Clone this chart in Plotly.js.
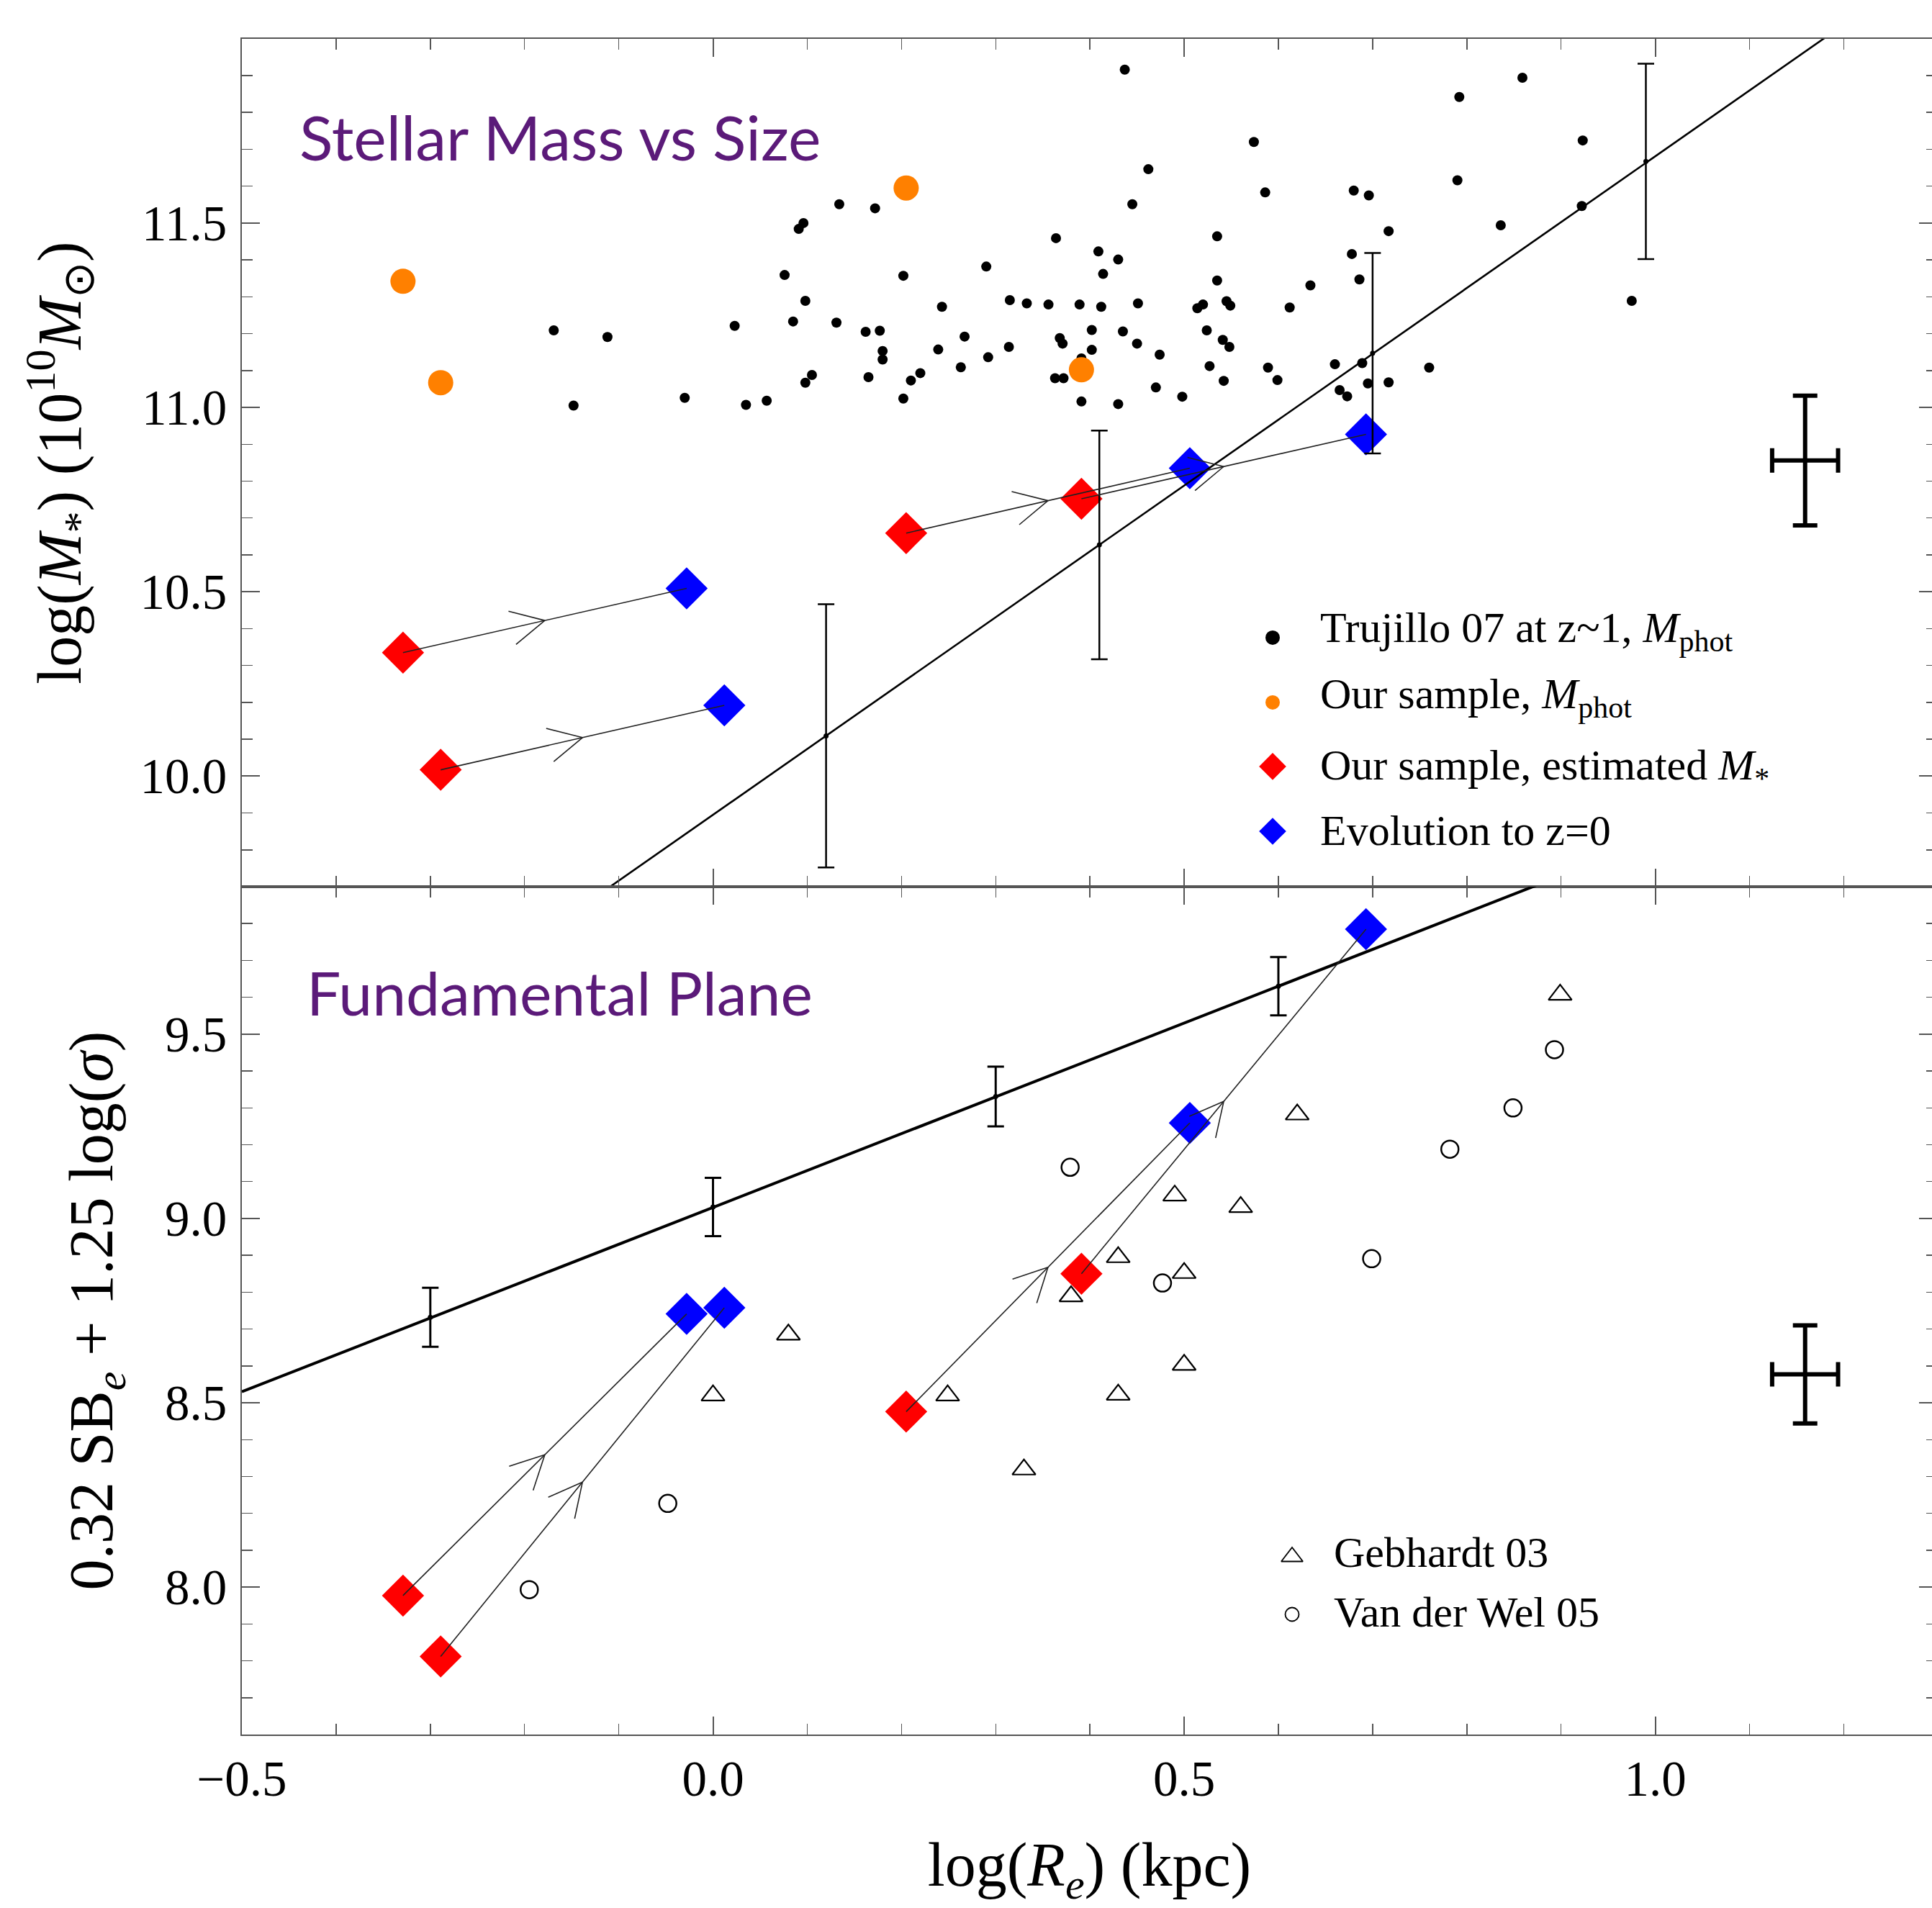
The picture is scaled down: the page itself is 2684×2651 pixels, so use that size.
<!DOCTYPE html>
<html>
<head>
<meta charset="utf-8">
<script src="https://cdn.plot.ly/plotly-3.0.1.min.js"></script>
<style>html,body{margin:0;padding:0;overflow:hidden;background:#ffffff;}</style>
</head>
<body>
<div id="plot"></div>
<script>
// ---------------- DATA ----------------
// Trujillo 07 at z~1 (photometric masses), log(Re) vs log(M*)
const trujilloX = [-0.169,-0.148,-0.112,-0.030,0.023,0.035,0.057,0.076,0.085,0.091,0.096,0.098,
  0.098,0.105,0.131,0.134,0.162,0.165,0.172,0.177,0.180,0.180,0.202,0.202,
  0.210,0.220,0.239,0.243,0.263,0.267,0.290,0.292,0.314,0.315,0.333,0.356,
  0.363,0.364,0.368,0.371,0.372,0.389,0.391,0.391,0.402,0.402,0.409,0.412,
  0.414,0.430,0.430,0.435,0.437,0.445,0.450,0.451,0.462,0.470,0.474,0.498,
  0.514,0.520,0.524,0.527,0.535,0.535,0.541,0.542,0.545,0.548,0.549,0.574,
  0.586,0.589,0.599,0.612,0.634,0.660,0.665,0.673,0.678,0.680,0.686,0.689,
  0.695,0.696,0.717,0.717,0.760,0.790,0.792,0.836,0.859,0.922,0.923,0.975];
const trujilloY = [11.209,11.005,11.191,11.026,11.221,11.007,11.018,11.359,11.233,11.484,11.500,11.289,
  11.067,11.088,11.230,11.551,11.205,11.082,11.540,11.208,11.153,11.130,11.357,11.024,
  11.073,11.093,11.157,11.273,11.109,11.192,11.382,11.136,11.164,11.291,11.282,11.279,
  11.079,11.459,11.188,11.173,11.079,11.279,11.133,11.016,11.210,11.156,11.423,11.273,
  11.362,11.401,11.009,11.206,11.916,11.551,11.173,11.282,11.646,11.054,11.143,11.029,
  11.269,11.279,11.209,11.112,11.464,11.344,11.183,11.072,11.288,11.164,11.276,11.720,
  11.583,11.108,11.074,11.271,11.331,11.117,11.047,11.030,11.416,11.588,11.347,11.120,
  11.065,11.575,11.478,11.068,11.108,11.616,11.842,11.494,11.894,11.546,11.724,11.289];

// Our sample
const sampleX      = [-0.329, -0.289, 0.205, 0.391];
const samplePhotY  = [11.342, 11.067, 11.595, 11.102];
const sampleEstY   = [10.335, 10.017, 10.659, 10.752];
const evolX        = [-0.028, 0.012, 0.506, 0.693];
const evolMassY    = [10.509, 10.192, 10.835, 10.927];
const sampleFpY    = [7.977, 7.812, 8.476, 8.850];
const evolFpY      = [8.741, 8.758, 9.259, 9.785];

// Local mass-size relation (with scatter bars)
const msSlope = 1.786, msIntercept = 9.895;
const msBarX   = [0.12, 0.41, 0.70, 0.99];
const msBarY   = [10.109, 10.627, 11.147, 11.667];
const msBarErr = [0.357, 0.310, 0.272, 0.265];

// Local fundamental plane relation
const fpSlope = 1.0, fpIntercept = 9.03;
const fpBarX   = [-0.30, 0.00, 0.30, 0.60];
const fpBarY   = [8.732, 9.031, 9.331, 9.630];
const fpBarErr = [0.080, 0.079, 0.081, 0.079];

// Gebhardt 03
const gebX = [0.000, 0.080, 0.249, 0.330, 0.380, 0.430, 0.430, 0.490, 0.500, 0.500, 0.560, 0.620, 0.899];
const gebY = [8.520, 8.685, 8.520, 8.319, 8.789, 8.895, 8.522, 9.062, 8.852, 8.603, 9.031, 9.282, 9.607];
// Van der Wel 05
const vdwX = [-0.195, -0.048, 0.379, 0.477, 0.699, 0.782, 0.849, 0.893];
const vdwY = [7.993, 8.227, 9.139, 8.825, 8.891, 9.188, 9.300, 9.458];

// Typical error crosses
const typErrX = [1.159];
const typErrTopY = [10.856];
const typErrBotY = [8.577];
const typErrDx = [0.035];
const typErrTopDy = [0.176];
const typErrBotDy = [0.133];

// Text
const topPanelTitle = 'Stellar Mass vs Size';
const botPanelTitle = 'Fundamental Plane';
const topLegendNames = ['Trujillo 07 at z~1, <i>M</i><sub>phot</sub>',
                        'Our sample, <i>M</i><sub>phot</sub>',
                        'Our sample, estimated <i>M</i><sub>*</sub>',
                        'Evolution to z=0'];
const botLegendNames = ['Gebhardt 03', 'Van der Wel 05'];

// ---------------- LAYOUT GEOMETRY ----------------
const W = 2691, H = 2651;
const M = {l: 336, r: 0, t: 54, b: 241};
const plotW = W - M.l - M.r, plotH = H - M.t - M.b;
const XR = [-0.5, 1.299];
const YR_TOP = [9.7, 12.0], YR_BOT = [7.6, 9.9];
const kx = plotW / (XR[1] - XR[0]);
const ky = (plotH / 2) / (YR_TOP[1] - YR_TOP[0]);
const SERIF = 'Liberation Serif, Times New Roman, serif';

const px = X => (X - M.l) / plotW;
const py = Y => (M.t + plotH - Y) / plotH;
const dataX = X => XR[0] + (X - M.l) / kx;
const dataYTop = Y => YR_TOP[1] - (Y - M.t) / ky;
const dataYBot = Y => YR_BOT[1] - (Y - M.t - plotH / 2) / ky;

function relLine(slope, intercept) {
  const xs = [XR[0], XR[1]];
  return {x: xs, y: xs.map(v => intercept + slope * v)};
}

function arrows(x0, y0, x1, y1) {
  const lx = [], ly = [], cx = [], cy = [];
  const len = 52, ang = 27 * Math.PI / 180;
  for (let i = 0; i < x0.length; i++) {
    lx.push(x0[i], x1[i], null); ly.push(y0[i], y1[i], null);
    const mx = (x0[i] + x1[i]) / 2, my = (y0[i] + y1[i]) / 2;
    const dxp = (x1[i] - x0[i]) * kx, dyp = (y1[i] - y0[i]) * ky;
    const L = Math.hypot(dxp, dyp);
    const ux = -dxp / L, uy = -dyp / L;
    const pts = [ang, -ang].map(a => {
      const rx = ux * Math.cos(a) - uy * Math.sin(a);
      const ry = ux * Math.sin(a) + uy * Math.cos(a);
      return [mx + rx * len / kx, my + ry * len / ky];
    });
    cx.push(pts[0][0], mx, pts[1][0], null);
    cy.push(pts[0][1], my, pts[1][1], null);
  }
  return {lx, ly, cx, cy};
}

const topArr = arrows(sampleX, sampleEstY, evolX, evolMassY);
const botArr = arrows(sampleX, sampleFpY, evolX, evolFpY);
const msLine = relLine(msSlope, msIntercept);
const fpLine = relLine(fpSlope, fpIntercept);

const RED = '#ff0000', BLUE = '#0000ff', ORANGE = '#ff8000';

const traces = [];
// ---- top panel ----
traces.push({type:'scatter', mode:'markers', x: trujilloX, y: trujilloY, xaxis:'x', yaxis:'y',
  name:'Trujillo 07', marker:{color:'#000', size:14}, hoverinfo:'skip'});
traces.push({type:'scatter', mode:'markers', x: sampleX, y: samplePhotY, xaxis:'x', yaxis:'y',
  name:'Our sample, Mphot', marker:{color:ORANGE, size:35}, hoverinfo:'skip'});
traces.push({type:'scatter', mode:'markers', x: sampleX, y: sampleEstY, xaxis:'x', yaxis:'y',
  name:'Our sample, estimated M*', marker:{color:RED, size:45, symbol:'diamond'}, hoverinfo:'skip'});
traces.push({type:'scatter', mode:'markers', x: evolX, y: evolMassY, xaxis:'x', yaxis:'y',
  name:'Evolution to z=0', marker:{color:BLUE, size:45, symbol:'diamond'}, hoverinfo:'skip'});
traces.push({type:'scatter', mode:'lines', x: msLine.x, y: msLine.y, xaxis:'x', yaxis:'y',
  line:{color:'#000', width:2.6}, hoverinfo:'skip'});
traces.push({type:'scatter', mode:'markers', x: msBarX, y: msBarY, xaxis:'x', yaxis:'y',
  marker:{color:'#000', size:7},
  error_y:{type:'data', array: msBarErr, visible:true, color:'#000', thickness:2.5, width:11.5},
  hoverinfo:'skip'});
traces.push({type:'scatter', mode:'markers', x: typErrX, y: typErrTopY, xaxis:'x', yaxis:'y',
  marker:{color:'#000', size:1},
  error_x:{type:'data', array: typErrDx, visible:true, color:'#000', thickness:6, width:17},
  error_y:{type:'data', array: typErrTopDy, visible:true, color:'#000', thickness:6, width:17},
  hoverinfo:'skip'});
traces.push({type:'scatter', mode:'lines', x: topArr.lx, y: topArr.ly, xaxis:'x', yaxis:'y',
  line:{color:'#222', width:1.6}, hoverinfo:'skip'});
traces.push({type:'scatter', mode:'lines', x: topArr.cx, y: topArr.cy, xaxis:'x', yaxis:'y',
  line:{color:'#222', width:1.6}, hoverinfo:'skip'});

// ---- bottom panel ----
traces.push({type:'scatter', mode:'markers', x: gebX, y: gebY, xaxis:'x2', yaxis:'y2',
  name:'Gebhardt 03', marker:{symbol:'triangle-up-open', color:'#000', size:28, line:{width:2.2}}, hoverinfo:'skip'});
traces.push({type:'scatter', mode:'markers', x: vdwX, y: vdwY, xaxis:'x2', yaxis:'y2',
  name:'Van der Wel 05', marker:{symbol:'circle-open', color:'#000', size:24, line:{width:2.5}}, hoverinfo:'skip'});
traces.push({type:'scatter', mode:'markers', x: sampleX, y: sampleFpY, xaxis:'x2', yaxis:'y2',
  marker:{color:RED, size:45, symbol:'diamond'}, hoverinfo:'skip'});
traces.push({type:'scatter', mode:'markers', x: evolX, y: evolFpY, xaxis:'x2', yaxis:'y2',
  marker:{color:BLUE, size:45, symbol:'diamond'}, hoverinfo:'skip'});
traces.push({type:'scatter', mode:'lines', x: fpLine.x, y: fpLine.y, xaxis:'x2', yaxis:'y2',
  line:{color:'#000', width:4}, hoverinfo:'skip'});
traces.push({type:'scatter', mode:'markers', x: fpBarX, y: fpBarY, xaxis:'x2', yaxis:'y2',
  marker:{color:'#000', size:7},
  error_y:{type:'data', array: fpBarErr, visible:true, color:'#000', thickness:3, width:11.5},
  hoverinfo:'skip'});
traces.push({type:'scatter', mode:'markers', x: typErrX, y: typErrBotY, xaxis:'x2', yaxis:'y2',
  marker:{color:'#000', size:1},
  error_x:{type:'data', array: typErrDx, visible:true, color:'#000', thickness:6, width:17},
  error_y:{type:'data', array: typErrBotDy, visible:true, color:'#000', thickness:6, width:17},
  hoverinfo:'skip'});
traces.push({type:'scatter', mode:'lines', x: botArr.lx, y: botArr.ly, xaxis:'x2', yaxis:'y2',
  line:{color:'#222', width:1.6}, hoverinfo:'skip'});
traces.push({type:'scatter', mode:'lines', x: botArr.cx, y: botArr.cy, xaxis:'x2', yaxis:'y2',
  line:{color:'#222', width:1.6}, hoverinfo:'skip'});

// ---- legend keys (layout positions, in pixels) ----
const topKeyX = 1768, topKeyY = [886, 976, 1065, 1155], topTextX = 1832, topTextY = [876, 968, 1067, 1154];
const botKeyX = 1795, botKeyY = [2163, 2243], botTextX = 1851, botTextY = [2157, 2240];
const topKeyStyles = [
  {color:'#000', size:20, symbol:'circle'},
  {color:ORANGE, size:20, symbol:'circle'},
  {color:RED, size:29, symbol:'diamond'},
  {color:BLUE, size:29, symbol:'diamond'}];
topKeyStyles.forEach((m, i) => traces.push({type:'scatter', mode:'markers', xaxis:'x', yaxis:'y',
  x:[dataX(topKeyX)], y:[dataYTop(topKeyY[i])], marker:m, hoverinfo:'skip'}));
const botKeyStyles = [
  {color:'#000', size:26, symbol:'triangle-up-open', line:{width:1.8}},
  {color:'#000', size:19, symbol:'circle-open', line:{width:1.8}}];
botKeyStyles.forEach((m, i) => traces.push({type:'scatter', mode:'markers', xaxis:'x2', yaxis:'y2',
  x:[dataX(botKeyX)], y:[dataYBot(botKeyY[i])], marker:m, hoverinfo:'skip'}));

// ---------------- ANNOTATIONS ----------------
const annotations = [];
annotations.push({xref:'paper', yref:'paper', x: px(414), y: py(189), xanchor:'left', yanchor:'middle',
  text: topPanelTitle, showarrow:false, font:{family:'Lato, Open Sans, sans-serif', size:86, color:'#5b1a79'}});
annotations.push({xref:'paper', yref:'paper', x: px(424), y: py(1378), xanchor:'left', yanchor:'middle',
  text: botPanelTitle, showarrow:false, font:{family:'Lato, Open Sans, sans-serif', size:84, color:'#5b1a79'}});
topLegendNames.forEach((t, i) => annotations.push({xref:'paper', yref:'paper', x: px(topTextX), y: py(topTextY[i]),
  xanchor:'left', yanchor:'middle', text:t, showarrow:false, font:{family:SERIF, size:60, color:'#000'}}));
botLegendNames.forEach((t, i) => annotations.push({xref:'paper', yref:'paper', x: px(botTextX), y: py(botTextY[i]),
  xanchor:'left', yanchor:'middle', text:t, showarrow:false, font:{family:SERIF, size:60, color:'#000'}}));

// ---------------- AXES ----------------
function axisBase(extra) {
  return Object.assign({
    showline:true, linecolor:'#555', linewidth:2, mirror:'ticks',
    ticks:'inside', ticklen:25, tickwidth:2, tickcolor:'#555',
    showgrid:false, zeroline:false, tick0:0, dtick:0.5, tickformat:'.1f',
    minor:{ticks:'inside', ticklen:15, tickwidth:1.5, tickcolor:'#555', dtick:0.1, showgrid:false},
    tickfont:{family:SERIF, size:69, color:'#000'},
    fixedrange:true
  }, extra);
}

const layout = {
  width: W, height: H,
  margin: M,
  paper_bgcolor:'#ffffff', plot_bgcolor:'#ffffff',
  showlegend:false,
  xaxis: axisBase({domain:[0,1], anchor:'y', range:XR, showticklabels:false}),
  yaxis: axisBase({domain:[0.5,1], anchor:'x', range:[YR_TOP[0], YR_TOP[1] - 0.0005], ticklabelstandoff:5,
    title:{text:'log(<i>M</i><sub>*</sub>) (10<sup>10</sup><i>M</i><sub>⊙</sub>)', standoff:53,
      font:{family:SERIF, size:86, color:'#000'}}}),
  xaxis2: axisBase({domain:[0,1], anchor:'y2', range:XR, ticklabelstandoff:0,
    title:{text:'log(<i>R</i><sub><i>e</i></sub>) (kpc)', standoff:120,
      font:{family:SERIF, size:86, color:'#000'}}}),
  yaxis2: axisBase({domain:[0,0.5], anchor:'x2', range:YR_BOT, ticklabelstandoff:5,
    title:{text:'0.32 SB<sub><i>e</i></sub> + 1.25 log(<i>σ</i>)', standoff:44,
      font:{family:SERIF, size:86, color:'#000'}}}),
  annotations: annotations
};

Plotly.newPlot('plot', traces, layout, {displayModeBar:false, staticPlot:true});
</script>
</body>
</html>
